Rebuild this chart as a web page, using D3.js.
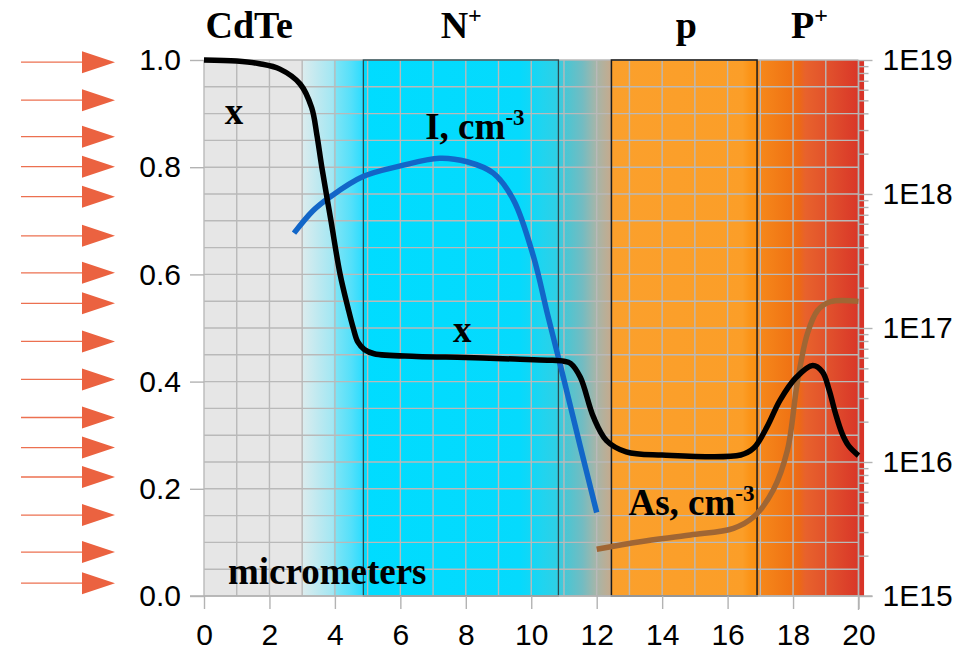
<!DOCTYPE html>
<html><head><meta charset="utf-8">
<script src="https://cdn.jsdelivr.net/npm/d3@7"></script>
<style>html,body{margin:0;padding:0;background:#fff;} svg{display:block}</style>
</head><body>
<svg id="chart" width="968" height="654"></svg>
<script>
// ---------- data ----------
const xTicks = [0, 2, 4, 6, 8, 10, 12, 14, 16, 18, 20];
const yTicks = [0, 0.2, 0.4, 0.6, 0.8, 1.0];
const yTickLabels = ["0.0", "0.2", "0.4", "0.6", "0.8", "1.0"];
const rightTicks = [1e15, 1e16, 1e17, 1e18, 1e19];
const rightTickLabels = ["1E15", "1E16", "1E17", "1E18", "1E19"];

// layer regions (micrometers)
const regionNames = ["CdTe", "N", "p", "P"];
const regionSup = ["", "+", "", "+"];
const regionLabelX = [1.38, 7.86, 14.74, 18.5];
const nBox = [4.87, 10.83];
const pBox = [12.45, 16.9];
const grayEnd = 3.0;
const plotEnd = 20.17;

// composition x (left axis)
const xCompDepth = [0, 1, 1.7, 2.32, 2.94, 3.29, 3.45, 3.6, 3.88, 4.16, 4.41, 4.56, 4.7, 4.9, 5.2, 6.5, 8, 9.5, 10.5, 11.0, 11.2, 11.5, 11.9, 12.3, 12.9, 14, 16.4, 16.8, 17.2, 17.6, 18.1, 18.6, 18.9, 19.1, 19.3, 19.5, 19.7, 20];
const xCompValue = [1.0, 0.998, 0.993, 0.983, 0.955, 0.911, 0.86, 0.80, 0.70, 0.60, 0.535, 0.50, 0.474, 0.46, 0.452, 0.447, 0.445, 0.442, 0.440, 0.438, 0.434, 0.408, 0.334, 0.29, 0.269, 0.263, 0.263, 0.276, 0.315, 0.365, 0.408, 0.430, 0.418, 0.385, 0.34, 0.303, 0.28, 0.262];

// Iodine concentration, cm^-3 (right axis)
const iDepth = [2.75, 3.33, 3.85, 4.86, 6.0, 7.2, 8.04, 8.84, 9.46, 10.07, 10.5, 11.0, 11.5, 12.0];
const iConc = [5.1e17, 7.5e17, 9.5e17, 1.35e18, 1.62e18, 1.85e18, 1.74e18, 1.43e18, 9.0e17, 3.4e17, 1.26e17, 4.1e16, 1.3e16, 4.2e15];

// Arsenic concentration, cm^-3 (right axis)
const asDepth = [12.0, 13.33, 14.86, 16.18, 16.8, 17.4, 17.83, 18.13, 18.44, 18.75, 19.14, 20.0];
const asConc = [2.23e15, 2.54e15, 2.85e15, 3.2e15, 3.9e15, 6.2e15, 1.23e16, 3.9e16, 9.1e16, 1.35e17, 1.57e17, 1.58e17];

// illumination arrows (left axis levels)
const arrowLevels = [0.996, 0.925, 0.857, 0.801, 0.745, 0.672, 0.603, 0.546, 0.475, 0.404, 0.333, 0.277, 0.222, 0.151, 0.082, 0.024];

// annotations
const annText = ["x", "x", "I, cm", "As, cm", "micrometers"];
const annSup = ["", "", "-3", "-3", ""];
const annX = [0.92, 7.89, 6.76, 12.97, 0.73];
const annY = [0.881, 0.473, 0.853, 0.151, 0.022];
const annAnchor = ["middle", "middle", "start", "start", "start"];

// ---------- chart ----------
const svg = d3.select("#chart");
const L = 204, R = 858.5, T = 60, B = 596;
const x = d3.scaleLinear().domain([0, 20]).range([L, R]);
const y = d3.scaleLinear().domain([0, 1]).range([B, T]);
const yLog = d3.scaleLog().domain([1e15, 1e19]).range([B, T]);

const defs = svg.append("defs");
function grad(id, x0, x1, stops) {
  const g = defs.append("linearGradient").attr("id", id)
    .attr("gradientUnits", "userSpaceOnUse")
    .attr("x1", x(x0)).attr("x2", x(x1)).attr("y1", 0).attr("y2", 0);
  stops.forEach(s => g.append("stop").attr("offset", s[0]).attr("stop-color", s[1]));
}
grad("gTrans1", grayEnd, nBox[0], [[0, "#dcecee"], [0.25, "#bfe9f0"], [0.5, "#a2e7f3"], [0.55, "#7ce4f6"], [0.8, "#55e0fa"], [1, "#2adcff"]]);
grad("gN", nBox[0], nBox[1], [[0, "#00dcff"], [0.8, "#05dafd"], [0.92, "#20d4ef"], [1, "#30cfe4"]]);
grad("gTrans2", nBox[1], pBox[0], [[0, "#38cce0"], [0.2, "#52c4d0"], [0.45, "#72bcc2"], [0.7, "#a4b6aa"], [1, "#c6aa8c"]]);
grad("gP", pBox[0], pBox[1], [[0, "#fba02c"], [0.9, "#fb9e28"], [0.95, "#fb9418"], [1, "#fb9010"]]);
grad("gPP", pBox[1], plotEnd, [[0, "#f68a1c"], [0.3, "#f07414"], [0.4, "#ec6818"], [0.45, "#e8622c"], [0.7, "#e04e2c"], [0.97, "#d83428"], [1, "#d83428"]]);

const bg = svg.append("g");
bg.append("rect").attr("x", x(0)).attr("width", x(grayEnd) - x(0)).attr("y", T).attr("height", B - T).attr("fill", "#e6e6e6");
bg.append("rect").attr("x", x(grayEnd)).attr("width", x(nBox[0]) - x(grayEnd)).attr("y", T).attr("height", B - T).attr("fill", "url(#gTrans1)");
bg.append("rect").attr("x", x(nBox[0])).attr("width", x(nBox[1]) - x(nBox[0])).attr("y", T).attr("height", B - T).attr("fill", "url(#gN)");
bg.append("rect").attr("x", x(nBox[1])).attr("width", x(pBox[0]) - x(nBox[1])).attr("y", T).attr("height", B - T).attr("fill", "url(#gTrans2)");
bg.append("rect").attr("x", x(pBox[0])).attr("width", x(pBox[1]) - x(pBox[0])).attr("y", T).attr("height", B - T).attr("fill", "url(#gP)");
bg.append("rect").attr("x", x(pBox[1])).attr("width", x(plotEnd) - x(pBox[1])).attr("y", T).attr("height", B - T).attr("fill", "url(#gPP)");

// grid
const grid = svg.append("g").attr("stroke", "#b9b9b9").attr("stroke-width", 1.4);
grid.selectAll("line.v").data(d3.range(0, 21)).join("line")
  .attr("x1", d => x(d)).attr("x2", d => x(d)).attr("y1", T).attr("y2", B);
grid.selectAll("line.h").data(d3.range(0, 21).map(i => i * 0.05)).join("line")
  .attr("class", "h").attr("x1", L).attr("x2", R).attr("y1", d => y(d)).attr("y2", d => y(d));

// boxes
svg.append("rect").attr("x", x(nBox[0])).attr("width", x(nBox[1]) - x(nBox[0])).attr("y", T).attr("height", B - T)
  .attr("fill", "none").attr("stroke", "#2a4a50").attr("stroke-width", 1.3);
svg.append("rect").attr("x", x(pBox[0])).attr("width", x(pBox[1]) - x(pBox[0])).attr("y", T).attr("height", B - T)
  .attr("fill", "none").attr("stroke", "#1a1a1a").attr("stroke-width", 1.5);

// axes
const tickColor = "#b3b3b3";
const axL = svg.append("g").attr("transform", `translate(${L},0)`)
  .call(d3.axisLeft(y).tickValues(yTicks).tickFormat((d, i) => yTickLabels[i]).tickSize(14).tickPadding(9));
const axB = svg.append("g").attr("transform", `translate(0,${B})`)
  .call(d3.axisBottom(x).tickValues(xTicks).tickFormat(d3.format("d")).tickSize(13).tickPadding(15));
const axR = svg.append("g").attr("transform", `translate(${R},0)`)
  .call(d3.axisRight(yLog).tickValues(rightTicks).tickFormat((d, i) => rightTickLabels[i]).tickSize(14).tickPadding(10));
const minor = [];
for (let e = 15; e < 19; e++) for (let m = 2; m <= 9; m++) minor.push(m * Math.pow(10, e));
const axRm = svg.append("g").attr("transform", `translate(${R},0)`)
  .call(d3.axisRight(yLog).tickValues(minor).tickFormat("").tickSize(10));
[axL, axB, axR, axRm].forEach(a => {
  a.select(".domain").remove();
  a.selectAll(".tick line").attr("stroke", tickColor).attr("stroke-width", 1.4);
  a.selectAll("text").attr("font-family", "'Liberation Sans', Arial, sans-serif").attr("font-size", 30).attr("fill", "#000");
});
svg.append("line").attr("x1", R).attr("x2", R).attr("y1", T).attr("y2", B + 14).attr("stroke", tickColor).attr("stroke-width", 1.4);
svg.append("line").attr("x1", L - 14).attr("x2", R + 14).attr("y1", B).attr("y2", B).attr("stroke", tickColor).attr("stroke-width", 1.4);

// curves
const smooth = d3.curveCatmullRom.alpha(0.5);
const lineLin = d3.line().x(d => x(d[0])).y(d => y(d[1])).curve(smooth);
const lineLog = d3.line().x(d => x(d[0])).y(d => yLog(d[1])).curve(smooth);
svg.append("path").datum(iDepth.map((d, i) => [d, iConc[i]])).attr("d", lineLog)
  .attr("fill", "none").attr("stroke", "#1266c8").attr("stroke-width", 5.5);
svg.append("path").datum(asDepth.map((d, i) => [d, asConc[i]])).attr("d", lineLog)
  .attr("fill", "none").attr("stroke", "#a06634").attr("stroke-width", 5.5);
svg.append("path").datum(xCompDepth.map((d, i) => [d, xCompValue[i]])).attr("d", lineLin)
  .attr("fill", "none").attr("stroke", "#000").attr("stroke-width", 5.5).attr("stroke-linejoin", "round");

// arrows
const arr = svg.append("g");
arrowLevels.forEach(v => {
  const yy = y(v);
  arr.append("line").attr("x1", 21).attr("x2", 84).attr("y1", yy).attr("y2", yy)
    .attr("stroke", "#ec7050").attr("stroke-width", 1.3);
  arr.append("path").attr("d", `M82,${yy - 11}L115,${yy}L82,${yy + 11}Z`).attr("fill", "#eb6240");
});

// region labels
const serif = "'Liberation Serif', 'Times New Roman', serif";
regionNames.forEach((n, i) => {
  const t = svg.append("text").attr("x", x(regionLabelX[i])).attr("y", 38)
    .attr("text-anchor", "middle").attr("font-family", serif).attr("font-weight", "bold")
    .attr("font-size", 38).attr("fill", "#000");
  t.append("tspan").text(n);
  if (regionSup[i]) t.append("tspan").attr("dy", -15).attr("font-size", 24).text(regionSup[i]);
});

// annotations
annText.forEach((s, i) => {
  const t = svg.append("text").attr("x", x(annX[i])).attr("y", y(annY[i]))
    .attr("text-anchor", annAnchor[i]).attr("font-family", serif).attr("font-weight", "bold")
    .attr("font-size", 37).attr("fill", "#000");
  t.append("tspan").text(s);
  if (annSup[i]) t.append("tspan").attr("dy", -14).attr("font-size", 23).text(annSup[i]);
});
</script>
</body></html>
